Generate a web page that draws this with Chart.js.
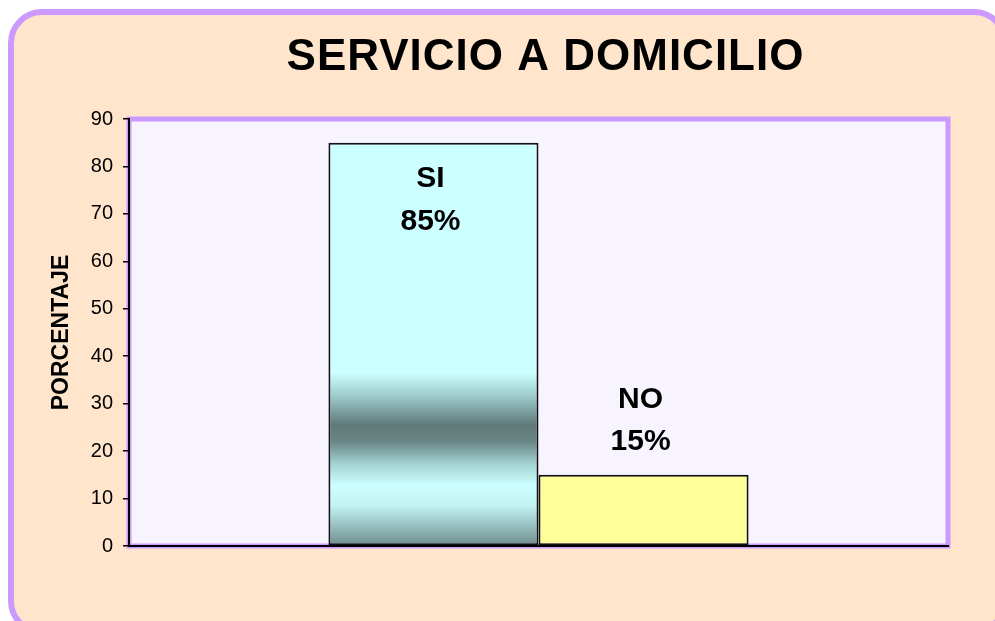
<!DOCTYPE html>
<html>
<head>
<meta charset="utf-8">
<title>Servicio a domicilio</title>
<script src="https://cdn.jsdelivr.net/npm/chart.js@4.4.1/dist/chart.umd.min.js"></script>
<style>
  html, body { margin: 0; padding: 0; width: 995px; height: 621px; overflow: hidden; background: #fff; }
  .marco {
    position: absolute; left: 8px; top: 9px; width: 1000px; height: 626px;
    box-sizing: border-box; border: 6px solid #cc99ff; border-radius: 34px;
    background: #ffe5cc;
  }
  #grafico { position: absolute; left: 0; top: 0; }
</style>
</head>
<body>
<div class="marco"></div>
<canvas id="grafico" width="995" height="621"></canvas>
<script>
// datos
const categorias = ['SI', 'NO'];
const porcentajes = [85, 15];
const etiquetas = ['85%', '15%'];
const yMin = 0, yMax = 90, yPaso = 10;

const fuente = '"Liberation Sans", Arial, sans-serif';

// degradado de la barra SI (cian con banda oscura)
function relleno(ctx) {
    const chart = ctx.chart;
    if (!chart.chartArea) return '#ccffff';
    if (ctx.datasetIndex !== 0) return '#ffff99';
    const y = chart.scales.y;
    const g = chart.ctx.createLinearGradient(0, y.getPixelForValue(porcentajes[0]), 0, y.getPixelForValue(0));
    g.addColorStop(0, '#ccffff');
    g.addColorStop(0.57, '#ccffff');
    g.addColorStop(0.63, '#9cc9c9');
    g.addColorStop(0.70, '#607878');
    g.addColorStop(0.74, '#6a8585');
    g.addColorStop(0.80, '#a6d6d6');
    g.addColorStop(0.85, '#ccffff');
    g.addColorStop(0.90, '#c2f2f2');
    g.addColorStop(1, '#6e8c8c');
    return g;
}

const fondoArea = {
    id: 'fondoArea',
    beforeDraw(chart) {
        const {ctx, chartArea: a} = chart;
        ctx.save();
        ctx.fillStyle = '#f8f4ff';
        ctx.fillRect(a.left, a.top, a.right - a.left, a.bottom - a.top);
        ctx.strokeStyle = '#cc99ff';
        ctx.lineWidth = 5;
        ctx.strokeRect(a.left, a.top, a.right - a.left, a.bottom - a.top);
        ctx.restore();
    }
};

const titulo = {
    id: 'titulo',
    afterDraw(chart) {
        const {ctx, chartArea: a} = chart;
        ctx.save();
        ctx.font = 'bold 44px ' + fuente;
        ctx.letterSpacing = '1px';
        ctx.fillStyle = '#000';
        ctx.textAlign = 'center';
        ctx.textBaseline = 'middle';
        ctx.fillText('SERVICIO A DOMICILIO', (a.left + a.right) / 2 + 7, 58);
        ctx.restore();
    }
};

const rotulos = {
    id: 'rotulos',
    afterDatasetsDraw(chart) {
        const ctx = chart.ctx;
        ctx.save();
        ctx.font = 'bold 30px ' + fuente;
        ctx.fillStyle = '#000';
        ctx.textAlign = 'center';
        ctx.textBaseline = 'middle';
        categorias.forEach((c, i) => {
            const bar = chart.getDatasetMeta(i).data[0];
            let y1, y2;
            if (i === 0) {        // dentro de la barra
                y1 = bar.y + 36;
                y2 = y1 + 43;
            } else {              // encima de la barra
                y2 = bar.y - 33;
                y1 = y2 - 42;
            }
            ctx.fillText(c, bar.x - 3, y1);
            ctx.fillText(etiquetas[i], bar.x - 3, y2);
        });
        ctx.restore();
    }
};

new Chart(document.getElementById('grafico'), {
    type: 'bar',
    data: {
        labels: [''],
        datasets: categorias.map((c, i) => ({
            label: c,
            data: [porcentajes[i]],
            backgroundColor: relleno,
            borderColor: '#111',
            borderWidth: 2,
            borderSkipped: false,
            categoryPercentage: 0.513,
            barPercentage: 1
        }))
    },
    options: {
        responsive: false,
        animation: false,
        layout: { padding: { left: 50, right: 47, top: 119, bottom: 75 } },
        plugins: {
            legend: { display: false },
            tooltip: { enabled: false }
        },
        scales: {
            x: {
                grid: { display: false },
                border: { display: true, color: '#000', width: 2 },
                ticks: { display: false },
                afterFit(s) { s.height = 0; }
            },
            y: {
                min: yMin,
                max: yMax,
                ticks: {
                    stepSize: yPaso,
                    color: '#000',
                    padding: 10,
                    font: { family: fuente, size: 20 }
                },
                grid: { drawOnChartArea: false, drawTicks: true, tickLength: 6, color: '#000', lineWidth: 1.5 },
                border: { display: true, color: '#000', width: 2 },
                title: {
                    display: true,
                    text: 'PORCENTAJE',
                    color: '#000',
                    padding: 0,
                    font: { family: fuente, size: 23, weight: 'bold', lineHeight: 1 }
                },
                afterFit(s) { s.width = 79; }
            }
        }
    },
    plugins: [fondoArea, rotulos, titulo]
});
</script>
</body>
</html>
